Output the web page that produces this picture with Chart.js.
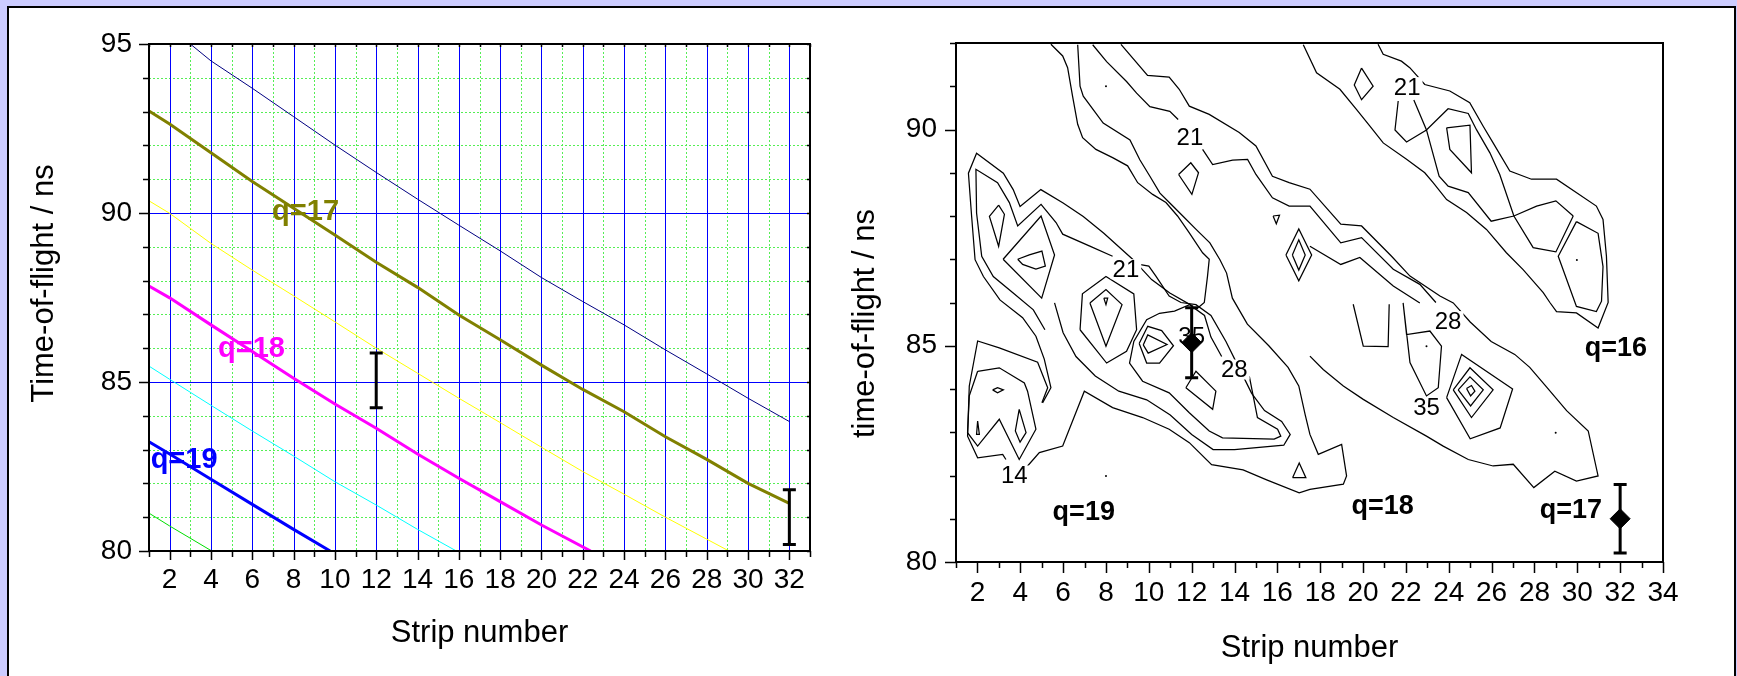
<!DOCTYPE html>
<html>
<head>
<meta charset="utf-8">
<title>Time-of-flight vs strip number</title>
<script src="https://cdn.jsdelivr.net/npm/chart.js@4.4.1/dist/chart.umd.min.js"></script>
<style>
  html, body { margin: 0; padding: 0; }
  body { width: 1737px; height: 676px; background: #ccccff; position: relative; overflow: hidden; }
  #frame { position: absolute; left: 7px; top: 6px; width: 1729px; height: 700px; box-sizing: border-box; border: 2px solid #000; background: #fff; }
  #leftChart { position: absolute; left: 0; top: 0; }
  #rightChart { position: absolute; left: 840px; top: 0; }
</style>
</head>
<body>
<div id="frame"></div>
<canvas id="leftChart" width="840" height="676"></canvas>
<canvas id="rightChart" width="897" height="676"></canvas>
<script>
// ---- left panel: calculated flight times per strip ----
const tofNavy = [[3,95],[4,94.5],[6,93.69],[8,92.85],[10,92.01],[12,91.2],[14,90.41],[16,89.64],[18,88.88],[20,88.09],[22,87.38],[24,86.69],[26,85.95],[28,85.24],[30,84.52],[32,83.83]];
const tofOlive = [[1,93.02],[2,92.63],[4,91.78],[6,90.93],[8,90.14],[10,89.35],[12,88.54],[14,87.8],[16,86.98],[18,86.25],[20,85.5],[22,84.78],[24,84.12],[26,83.38],[28,82.71],[30,82.0],[32,81.41]];
const tofYellow = [[1,90.36],[2,89.99],[4,89.1],[6,88.31],[8,87.55],[10,86.78],[12,86.0],[14,85.26],[16,84.52],[18,83.8],[20,83.07],[22,82.35],[24,81.68],[26,81.0],[28,80.35],[29.08,80]];
const tofMagenta = [[1,87.84],[2,87.49],[4,86.69],[6,85.9],[8,85.11],[10,84.35],[12,83.63],[14,82.87],[16,82.15],[18,81.46],[20,80.77],[22.38,80]];
const tofCyan = [[1,85.47],[2,85.08],[4,84.31],[6,83.55],[8,82.81],[10,82.05],[12,81.36],[14,80.64],[15.88,80]];
const tofBlue = [[1,83.23],[2,82.87],[4,82.12],[6,81.38],[8,80.64],[9.77,80]];
const tofGreen = [[1,81.12],[2,80.74],[4.04,80]];

const leftErrStrip = [12, 32];
const leftErrTof = [85.05, 81.0];
const leftErrHalf = [0.81, 0.81];

const leftLabelText = ['q=17', 'q=18', 'q=19'];
const leftLabelStrip = [6.96, 4.34, 1.08];
const leftLabelTof = [89.79, 85.75, 82.45];
const leftLabelColor = ['#808000', '#ff00ff', '#0000ff'];

// ---- right panel: measured contour lines ----
const k17Outer = [[17.21,91.96],[17.83,91.31],[18.92,90.93],[19.70,90.46],[20.32,90.08],[20.94,89.69],[22.03,89.31],[22.88,89.0],[23.27,88.77],[23.90,88.38],[24.83,88.08],[25.76,87.69],[26.69,87.15],[27.47,86.76],[28.41,86.23],[28.72,86.0],[29.03,85.79],[29.96,85.76],[30.97,85.41],[31.44,86.0],[31.36,87.07],[31.2,87.92],[30.89,88.23],[29.03,88.85],[27.86,88.85],[26.85,89.04],[26.07,89.69],[25.6,90.08],[24.98,90.62],[24.05,90.89],[22.88,91.04],[22.18,91.43],[21.79,91.58],[20.94,91.74],[20.7,91.97]];
const k17Left = [[21.64,90.66],[21.49,89.99],[22.03,89.71],[22.96,89.99],[23.97,90.48],[24.91,90.37],[25.30,89.99],[25.92,89.46],[26.38,88.96],[27.04,88.0],[27.94,87.27],[29.0,87.17],[29.81,88.0]];
const k17Right = [[22.37,90.68],[22.96,89.99],[23.55,88.92],[23.97,88.69],[24.91,88.54],[25.98,87.88],[27.04,88.0],[28.1,88.23],[29.0,88.35],[29.81,88.0]];
const k17Core = [[23.9,90.04],[24.99,90.1],[25.06,89.0],[24.05,89.54],[23.9,90.04]];
const k17Tail = [[29.96,87.87],[30.97,87.6],[31.2,86.83],[31.13,86.03],[30.89,85.79],[29.96,85.91],[29.11,87.07],[29.96,87.87]];
const k17Isle = [[19.93,91.42],[20.47,91.0],[19.93,90.69],[19.59,91.03],[19.93,91.42]];

const m18Edge = [[5.43,91.97],[5.98,91.70],[6.21,91.43],[6.44,90.77],[6.68,90.12],[6.91,89.81],[7.53,89.54],[8.31,89.35],[9.01,89.16],[9.48,88.77],[10.18,88.50],[10.80,88.31],[11.34,88.0],[11.89,87.61],[12.51,87.15],[12.82,87.0],[12.74,86.61],[12.59,86.0],[12.3,85.88]];
const m18Second = [[6.68,91.96],[6.79,91.0],[6.94,90.77],[7.87,90.15],[9.12,89.76],[9.58,89.30],[10.05,88.92],[10.52,88.53],[10.98,88.30],[11.61,87.99],[12.23,87.68],[12.85,87.38],[13.32,86.99],[13.63,86.68],[13.9,86.1],[14.6,85.5],[15.6,85.0],[16.5,84.5],[17.0,84.07],[17.3,83.4],[17.52,82.95],[17.91,82.49],[19.0,82.72],[19.23,81.99],[19.08,81.8],[17.52,81.68],[17.02,81.6],[15.5,81.9],[14.4,82.13],[12.93,82.25],[11.89,82.76],[10.95,83.07],[9.71,83.34],[8.31,83.57],[6.99,83.95],[5.98,82.68],[4.89,82.53],[4.34,82.22]];
const m18TopA = [[7.38,91.96],[8.03,91.57],[8.96,91.11],[9.43,90.84],[10.05,90.53],[10.98,90.42],[11.37,90.23]];
const m18TopB = [[12.51,89.54],[12.98,89.19],[13.91,89.29],[14.61,89.31],[15.0,88.96],[15.77,88.42],[16.55,88.23],[17.52,88.23],[18.96,87.38],[19.93,87.5],[21.41,86.77],[22.65,86.42],[23.4,86.0]];
const m18Upper = [[8.7,91.97],[9.94,91.25],[10.95,91.21],[11.42,90.93],[11.89,90.54],[12.82,90.35],[14.22,89.93],[15.0,89.62],[15.77,88.92],[16.55,88.77],[17.52,88.62],[18.96,87.81],[19.93,87.77],[21.33,87.07],[22.19,86.61],[23.59,86.15],[24.21,85.99],[25.0,85.55],[25.98,85.1],[27.08,84.8],[27.78,84.5],[28.56,84.05],[29.5,83.5],[30.51,83.03],[30.97,81.99],[29.96,81.87],[28.95,82.1],[27.97,81.72],[27.01,82.26],[26.07,82.22],[24.91,82.37],[23.74,82.68],[22.96,82.91],[21.41,83.34],[20.01,83.76],[19.08,84.07],[18.14,84.45],[17.52,84.76]];
const m18Third = [[17.52,87.3],[18.96,86.88],[19.85,87.04],[21.41,86.38],[22.65,85.99]];
const m18Isle = [[11.39,88.96],[11.96,89.23],[12.32,89.0],[12.01,88.5],[11.39,88.96]];
const m18Notch = [[15.8,88.0],[16.1,88.02],[15.95,87.82],[15.8,88.0]];
const m18Nest1 = [[16.4,87.1],[17.0,87.7],[17.6,87.1],[17.0,86.5],[16.4,87.1]];
const m18Nest2 = [[16.7,87.1],[17.0,87.45],[17.3,87.1],[17.0,86.75],[16.7,87.1]];
const m18Box = [[19.54,85.96],[20.01,84.99],[21.17,84.98],[21.22,85.96]];
const m18Loop = [[21.87,85.99],[22.03,85.26],[23.12,85.34],[23.66,84.99],[23.51,84.03],[22.96,83.84],[22.19,84.61],[21.87,85.99]];
const m18Dia1 = [[24.21,83.98],[24.99,84.49],[26.07,83.98],[25.06,83.34],[24.21,83.98]];
const m18Dia2 = [[24.44,83.98],[24.99,84.28],[25.61,83.98],[25.02,83.61],[24.44,83.98]];
const m18Dia3 = [[24.83,84.01],[25.06,84.08],[25.22,83.95],[25.02,83.84],[24.83,84.01]];
const m18Ring = [[23.9,83.8],[24.6,84.8],[26.98,84.0],[26.4,83.1],[25.0,82.85],[23.9,83.8]];

const q19Outer = [[5.04,83.68],[5.43,84.03],[5.12,84.69],[4.73,85.22],[4.11,85.65],[3.05,86.06],[2.28,86.6],[1.89,86.99],[1.73,87.99],[1.58,88.99],[1.96,89.45],[3.21,88.99],[3.67,88.61],[3.99,88.22],[4.96,88.61],[6.0,88.3],[6.94,87.99],[7.9,87.6],[9.27,86.99],[10.13,86.53],[10.98,86.22],[12.07,85.91]];
const q19InnerA = [[5.15,85.37],[4.61,85.83],[3.67,86.22],[2.74,86.6],[2.2,87.07],[1.96,88.07],[1.93,89.08],[2.94,88.77],[3.49,88.31],[3.88,87.77],[4.97,88.27],[5.67,87.85],[5.98,87.58],[7.22,87.31],[8.31,87.07]];
const q19InnerB = [[9.55,86.88],[10.0,86.84],[10.33,86.61],[10.95,86.15],[11.5,86.0],[12.2,85.95],[12.9,85.7],[13.6,85.1],[14.2,84.5],[14.8,83.9],[15.4,83.5],[16.2,83.25],[16.6,82.95],[16.3,82.7],[14.0,82.6],[13.0,82.6],[12.0,82.95],[11.0,83.4],[9.9,83.75],[8.6,83.95],[7.5,84.3],[6.6,84.75],[6.0,85.3],[5.6,85.99]];
const q19Ring28 = [[14.69,84.3],[15.07,83.34],[16.01,83.07],[16.16,82.91],[15.85,82.84],[13.44,82.87],[12.82,83.03],[11.89,83.45],[10.95,83.91],[9.71,84.18],[9.1,84.6],[9.3,85.1],[9.9,85.6],[10.5,85.75],[11.2,85.8],[11.9,85.95],[12.6,85.7],[12.9,85.2],[13.4,84.75]];
const q19Peak35 = [[9.55,85.05],[9.95,85.45],[10.6,85.35],[11.15,85.0],[10.5,84.6],[9.9,84.6],[9.55,85.05]];
const q19PeakCore = [[9.74,85.02],[9.95,85.25],[10.85,85.03],[9.97,84.83],[9.74,85.02]];
const q19Below = [[11.73,84.03],[12.2,84.41],[13.13,83.95],[12.98,83.53],[11.73,84.03]];
const q19PeakA1 = [[7.25,85.99],[8.0,86.3],[8.75,85.95],[8.0,84.99],[7.25,85.99]];
const q19PeakA2 = [[6.79,85.37],[8.03,84.6],[8.96,84.87],[9.43,85.37],[9.3,86.2],[8.0,86.6],[6.9,86.2],[6.79,85.37]];
const q19Tip = [[7.9,86.1],[8.08,86.1],[8.0,85.95],[7.9,86.1]];
const q19LobeD = [[2.99,88.25],[3.26,88.04],[2.99,87.3],[2.56,87.99],[2.99,88.25]];
const q19LobeE = [[3.2,87.0],[4.97,88.0],[5.6,87.1],[5.0,86.1],[3.2,87.0]];
const q19LobeF = [[3.88,87.0],[4.42,87.1],[5.01,87.19],[5.17,86.84],[4.73,86.77],[4.11,86.88],[3.88,87.0]];
const q19Ring14 = [[3.33,82.37],[3.18,82.49],[2.01,82.41],[1.54,82.91],[1.62,84.07],[2.01,85.11],[3.02,84.95],[4.81,84.62],[5.28,84.03],[5.01,83.68]];
const q19Low2 = [[2.01,84.41],[3.02,84.49],[4.19,84.14],[4.34,83.95],[4.73,83.07],[3.95,82.37],[3.02,83.3],[2.01,82.68],[1.54,82.99],[1.62,83.84],[2.01,84.41]];
const q19LowEye = [[2.71,83.98],[2.94,84.03],[3.21,83.98],[2.94,83.91],[2.71,83.98]];
const q19LowSpike = [[3.95,83.53],[4.27,82.99],[3.99,82.77],[3.77,83.03],[3.95,83.53]];
const q19LowSliver = [[2.01,83.26],[2.09,82.95],[1.96,82.95],[2.01,83.26]];
const q18Triangle = [[16.71,81.95],[17.02,82.29],[17.33,81.95],[16.71,81.95]];

const contourLines = [k17Outer, k17Left, k17Right, k17Core, k17Tail, k17Isle,
  m18Edge, m18Second, m18TopA, m18TopB, m18Upper, m18Third, m18Isle, m18Notch, m18Nest1, m18Nest2,
  m18Box, m18Loop, m18Dia1, m18Dia2, m18Dia3, m18Ring,
  q19Outer, q19InnerA, q19InnerB, q19Ring28, q19Peak35, q19PeakCore, q19Below, q19PeakA1, q19PeakA2, q19Tip,
  q19LobeD, q19LobeE, q19LobeF, q19Ring14, q19Low2, q19LowEye, q19LowSpike, q19LowSliver, q18Triangle];

const strayDots = [[8.0,91.0],[8.0,81.99],[22.96,84.99],[28.99,82.99],[29.98,86.98]];

const markStrip = [12, 32];
const markTof = [85.07, 81.0];
const markErr = [0.81, 0.79];

const levelText = ['21', '21', '21', '35', '28', '14', '28', '35'];
const levelStrip = [11.92, 8.93, 22.06, 12.0, 13.99, 3.72, 23.97, 22.96];
const levelTof = [89.81, 86.77, 90.98, 85.22, 84.45, 82.0, 85.57, 83.57];

const chargeText = ['q=19', 'q=18', 'q=17', 'q=16'];
const chargeStrip = [5.51, 19.46, 28.25, 30.35];
const chargeTof = [80.98, 81.1, 81.02, 84.76];

// ---- drawing ----
const FONT = '"Liberation Sans", Arial, sans-serif';
Chart.defaults.font.family = FONT;
Chart.defaults.color = '#000';

function toXY(points) {
  return points.map(p => ({ x: p[0], y: p[1] }));
}

function lineSet(points, color, width) {
  return { data: toXY(points), borderColor: color, borderWidth: width, pointRadius: 0,
           showLine: true, fill: false, tension: 0 };
}

function errorBars(ctx, x, y, xs, ys, half) {
  ctx.save();
  ctx.strokeStyle = '#000';
  ctx.lineWidth = 3;
  for (let i = 0; i < xs.length; i++) {
    const px = x.getPixelForValue(xs[i]);
    const top = y.getPixelForValue(ys[i] + half[i]);
    const bot = y.getPixelForValue(ys[i] - half[i]);
    ctx.beginPath();
    ctx.moveTo(px, top); ctx.lineTo(px, bot);
    ctx.moveTo(px - 6.5, top); ctx.lineTo(px + 6.5, top);
    ctx.moveTo(px - 6.5, bot); ctx.lineTo(px + 6.5, bot);
    ctx.stroke();
  }
  ctx.restore();
}

function tickMarks(ctx, scale, from, to, isMajor, majorLen, minorLen, fixed, dir, horizontal) {
  ctx.beginPath();
  for (let v = from; v <= to; v++) {
    const p = Math.round(scale.getPixelForValue(v)) + 0.5;
    const len = isMajor(v) ? majorLen : minorLen;
    if (horizontal) { ctx.moveTo(p, fixed); ctx.lineTo(p, fixed + dir * len); }
    else { ctx.moveTo(fixed, p); ctx.lineTo(fixed + dir * len, p); }
  }
  ctx.stroke();
}

function rotatedTitle(ctx, text, bx, cy, size) {
  ctx.save();
  ctx.translate(bx, cy);
  ctx.rotate(-Math.PI / 2);
  ctx.font = size + 'px ' + FONT;
  ctx.fillStyle = '#000';
  ctx.textAlign = 'center';
  ctx.textBaseline = 'alphabetic';
  ctx.fillText(text, 0, 0);
  ctx.restore();
}

const leftDecor = {
  id: 'leftDecor',
  beforeDatasetsDraw(chart) {
    const { ctx, chartArea: a, scales: { x, y } } = chart;
    ctx.save();
    ctx.lineWidth = 1;
    ctx.strokeStyle = '#55ee55';
    ctx.setLineDash([2, 2]);
    ctx.beginPath();
    for (let v = 3; v <= 31; v += 2) {
      const px = Math.round(x.getPixelForValue(v)) + 0.5;
      ctx.moveTo(px, a.top); ctx.lineTo(px, a.bottom);
    }
    for (let v = 81; v <= 94; v++) {
      if (v % 5 === 0) continue;
      const py = Math.round(y.getPixelForValue(v)) + 0.5;
      ctx.moveTo(a.left, py); ctx.lineTo(a.right, py);
    }
    ctx.stroke();
    ctx.setLineDash([]);
    ctx.strokeStyle = '#0000ff';
    ctx.beginPath();
    for (let v = 2; v <= 32; v += 2) {
      const px = Math.round(x.getPixelForValue(v)) + 0.5;
      ctx.moveTo(px, a.top); ctx.lineTo(px, a.bottom);
    }
    for (const v of [85, 90]) {
      const py = Math.round(y.getPixelForValue(v)) + 0.5;
      ctx.moveTo(a.left, py); ctx.lineTo(a.right, py);
    }
    ctx.stroke();
    ctx.restore();
  },
  afterDatasetsDraw(chart) {
    const { ctx, chartArea: a, scales: { x, y } } = chart;
    ctx.save();
    ctx.strokeStyle = '#000';
    ctx.lineWidth = 2;
    ctx.strokeRect(a.left, a.top, a.width, a.height);
    ctx.lineWidth = 1.5;
    tickMarks(ctx, x, 1, 33, v => v % 2 === 0, 9, 6, a.bottom, 1, true);
    tickMarks(ctx, x, 1, 33, v => true, 3, 3, a.top, 1, true);
    tickMarks(ctx, y, 80, 95, v => v % 5 === 0, 10, 6, a.left, -1, false);
    tickMarks(ctx, y, 80, 95, v => true, 3, 3, a.right, -1, false);
    errorBars(ctx, x, y, leftErrStrip, leftErrTof, leftErrHalf);
    ctx.font = 'bold 29px ' + FONT;
    ctx.textAlign = 'left';
    ctx.textBaseline = 'alphabetic';
    leftLabelText.forEach((t, i) => {
      ctx.fillStyle = leftLabelColor[i];
      ctx.fillText(t, x.getPixelForValue(leftLabelStrip[i]), y.getPixelForValue(leftLabelTof[i]));
    });
    ctx.fillStyle = '#000';
    ctx.font = '31px ' + FONT;
    ctx.textAlign = 'center';
    ctx.fillText('Strip number', (a.left + a.right) / 2, a.bottom + 91);
    ctx.restore();
    rotatedTitle(ctx, 'Time-of-flight / ns', a.left - 96, (a.top + a.bottom) / 2 - 14, 31);
  }
};

const rightDecor = {
  id: 'rightDecor',
  afterDatasetDraw(chart, args) {
    if (args.index !== 1) return;
    const { ctx, scales: { x, y } } = chart;
    ctx.save();
    ctx.font = '24px ' + FONT;
    ctx.textAlign = 'center';
    ctx.textBaseline = 'middle';
    levelText.forEach((t, i) => {
      const px = x.getPixelForValue(levelStrip[i]);
      const py = y.getPixelForValue(levelTof[i]);
      const w = ctx.measureText(t).width;
      ctx.fillStyle = '#fff';
      ctx.fillRect(px - w / 2 - 2, py - 10, w + 4, 20);
      ctx.fillStyle = '#000';
      ctx.fillText(t, px, py + 1);
    });
    ctx.restore();
  },
  afterDatasetsDraw(chart) {
    const { ctx, chartArea: a, scales: { x, y } } = chart;
    ctx.save();
    ctx.strokeStyle = '#000';
    ctx.lineWidth = 2;
    ctx.strokeRect(a.left, a.top, a.width, a.height);
    ctx.lineWidth = 1.5;
    tickMarks(ctx, x, 1, 34, v => v % 2 === 0, 11, 6, a.bottom, 1, true);
    tickMarks(ctx, y, 80, 92, v => v % 5 === 0, 11, 6, a.left, -1, false);
    errorBars(ctx, x, y, markStrip, markTof, markErr);
    ctx.fillStyle = '#000';
    ctx.font = 'bold 27px ' + FONT;
    ctx.textAlign = 'left';
    ctx.textBaseline = 'alphabetic';
    chargeText.forEach((t, i) => {
      ctx.fillText(t, x.getPixelForValue(chargeStrip[i]), y.getPixelForValue(chargeTof[i]));
    });
    ctx.font = '31px ' + FONT;
    ctx.textAlign = 'center';
    ctx.fillText('Strip number', (a.left + a.right) / 2, a.bottom + 95);
    ctx.restore();
    rotatedTitle(ctx, 'time-of-flight / ns', a.left - 82, (a.top + a.bottom) / 2 + 21, 31);
  }
};

const axisBase = {
  grid: { display: false, drawTicks: false },
  border: { display: false }
};

new Chart(document.getElementById('leftChart'), {
  type: 'scatter',
  data: {
    datasets: [
      lineSet(tofOlive, '#808000', 3),
      lineSet(tofMagenta, '#ff00ff', 3),
      lineSet(tofBlue, '#0000ff', 3),
      lineSet(tofNavy, '#000080', 1),
      lineSet(tofYellow, '#ffff00', 1),
      lineSet(tofCyan, '#00ffff', 1),
      lineSet(tofGreen, '#00dd00', 1)
    ]
  },
  options: {
    responsive: false, animation: false, devicePixelRatio: 1,
    layout: { padding: { left: 0, top: 44, right: 30, bottom: 0 } },
    plugins: { legend: { display: false }, tooltip: { enabled: false } },
    scales: {
      x: Object.assign({}, axisBase, {
        type: 'linear', min: 1, max: 33,
        ticks: { stepSize: 1, autoSkip: false, maxRotation: 0, padding: 12, font: { size: 28 },
                 callback: v => (v % 2 === 0 ? String(v) : '') },
        afterFit: s => { s.height = 125; }
      }),
      y: Object.assign({}, axisBase, {
        min: 80, max: 95,
        ticks: { stepSize: 1, autoSkip: false, padding: 17, font: { size: 28 },
                 callback: v => (v % 5 === 0 ? String(v) : '') },
        afterFit: s => { s.width = 149; }
      })
    }
  },
  plugins: [leftDecor]
});

const rightSets = [
  { data: markStrip.map((s, i) => ({ x: s, y: markTof[i] })), pointStyle: 'rectRot', pointRadius: 10,
    backgroundColor: '#000', borderColor: '#000', showLine: false },
  { data: toXY(strayDots), pointRadius: 1, backgroundColor: '#000', borderColor: '#000', borderWidth: 0, showLine: false }
].concat(contourLines.map(c => lineSet(c, '#000', 1.25)));

new Chart(document.getElementById('rightChart'), {
  type: 'scatter',
  data: { datasets: rightSets },
  options: {
    responsive: false, animation: false, devicePixelRatio: 1,
    layout: { padding: { left: 0, top: 43, right: 74, bottom: 0 } },
    plugins: { legend: { display: false }, tooltip: { enabled: false } },
    scales: {
      x: Object.assign({}, axisBase, {
        type: 'linear', min: 1, max: 34,
        ticks: { stepSize: 1, autoSkip: false, maxRotation: 0, padding: 14, font: { size: 28 },
                 callback: v => (v % 2 === 0 ? String(v) : '') },
        afterFit: s => { s.height = 114; }
      }),
      y: Object.assign({}, axisBase, {
        min: 80, max: 92,
        ticks: { stepSize: 1, autoSkip: false, padding: 19, font: { size: 28 },
                 callback: v => (v % 5 === 0 ? String(v) : '') },
        afterFit: s => { s.width = 116; }
      })
    }
  },
  plugins: [rightDecor]
});
</script>
</body>
</html>
